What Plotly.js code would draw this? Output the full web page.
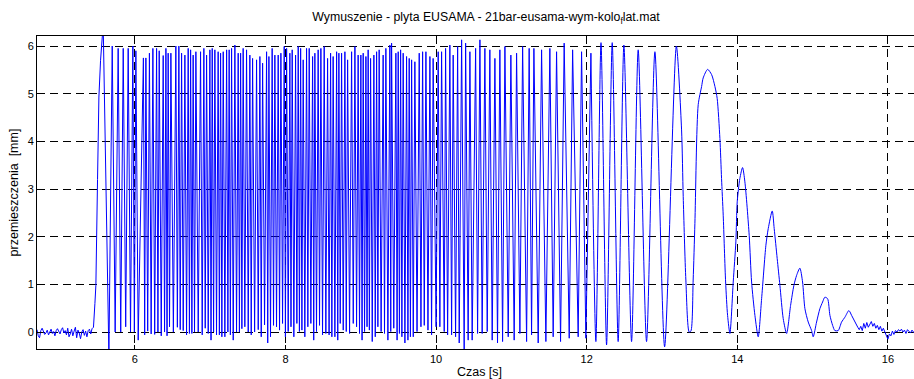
<!DOCTYPE html>
<html><head><meta charset="utf-8">
<script src="https://cdn.plot.ly/plotly-3.0.1.min.js"></script>
<style>html,body{margin:0;padding:0;overflow:hidden;background:#fff}#chart{width:930px;height:379px}</style>
</head><body><div id="chart"></div>
<script>
// ---- data (time in s, displacement in mm) ----
// resting noise before the excitation starts (sampled on a regular time grid)
const noiseStart = 4.70, noiseStep = 0.017;
const noiseY = [0.05,-0.08,-0.12,0.03,0.08,0.0,-0.05,-0.02,0.04,-0.06,0.02,0.06,-0.03,0.01,-0.08,0.03,0.07,0.02,-0.04,0.05,0.09,-0.02,0.03,-0.06,0.08,-0.1,-0.04,0.06,-0.08,0.02,0.1,-0.12,0.04,-0.02,-0.14,0.0,0.05,-0.07,0.02,-0.1,0.03,0.06,-0.04,0.07];
// first rise
const riseT = [5.450,5.469,5.482,5.504,5.522,5.544];
const riseY = [0.10,0.60,0.98,3.20,4.93,5.70];
// oscillation peaks
const peakT = [5.579,
 5.699,5.778,5.845,5.911,5.973,6.013,6.113,6.146,6.193,6.239,6.288,6.323,6.376,6.412,6.442,6.478,6.544,6.584,
 6.620,6.664,6.708,6.740,6.774,6.810,6.872,6.916,6.952,6.996,7.027,7.062,7.106,7.138,7.173,7.218,7.252,7.284,7.328,7.372,7.404,7.438,7.483,7.527,7.563,7.616,7.660,7.696,
 7.749,7.780,7.823,7.859,7.903,7.939,7.983,8.015,8.058,8.089,8.134,8.169,8.201,8.235,8.280,8.315,8.360,8.390,8.434,8.470,8.514,8.559,8.599,8.633,8.679,8.709,8.745,8.789,8.825,
 8.878,8.922,8.965,9.001,9.032,9.068,9.098,9.130,9.174,9.210,9.244,9.297,9.333,9.386,9.409,9.466,9.497,9.529,9.563,9.608,9.643,9.675,9.718,9.776,9.821,9.865,9.918,9.961,
 10.028,10.073,10.126,10.183,10.227,10.286,10.339,10.392,10.449,10.525,10.582,10.648,10.714,10.781,10.847,10.914,10.993,11.069,
 11.149,11.236,11.299,11.401,11.511,11.600,11.701,11.813,11.932,12.056,12.190,
 12.339,12.494,12.684,12.906,13.191];
const peakY = [6.45,
 6.00,5.95,5.95,5.95,6.00,5.90,5.75,5.75,5.85,5.95,5.95,5.90,5.80,5.95,5.85,5.85,6.00,6.00,
 5.85,5.81,5.95,5.92,5.81,5.88,5.88,5.95,5.81,5.92,5.95,5.92,5.88,5.85,5.88,5.92,5.92,5.95,6.02,5.85,5.85,5.95,5.92,5.81,5.74,5.71,5.78,5.64,
 5.88,5.78,5.95,5.81,5.81,5.85,5.99,5.95,5.85,5.92,5.81,5.99,5.95,5.71,5.95,5.95,5.78,5.85,5.92,5.95,5.99,5.74,5.85,5.78,5.88,5.85,5.85,5.88,5.71,
 5.88,5.99,5.81,5.81,5.85,5.78,5.92,5.74,5.81,5.88,5.92,5.81,5.95,6.02,6.06,5.85,5.88,5.92,5.85,5.78,5.74,5.71,5.67,5.85,5.88,5.88,5.78,5.74,
 5.88,5.88,5.95,6.02,5.81,5.99,6.13,6.06,5.88,5.95,6.13,5.95,5.92,5.74,5.92,5.99,5.81,5.85,
 5.99,5.95,5.95,5.92,5.95,5.88,6.06,5.92,5.88,5.85,6.07,
 6.07,6.02,5.92,5.88,6.00];
// oscillation troughs
const troughT = [5.655,
 5.738,5.812,5.878,5.942,5.993,6.044,6.130,6.170,6.216,6.263,6.306,6.350,6.394,6.427,6.460,6.511,6.564,6.602,
 6.642,6.686,6.724,6.757,6.792,6.841,6.894,6.934,6.974,7.011,7.045,7.084,7.122,7.155,7.195,7.235,7.268,7.306,7.350,7.388,7.421,7.460,7.505,7.545,7.590,7.638,7.678,7.722,
 7.764,7.801,7.841,7.881,7.921,7.961,7.999,8.036,8.073,8.111,8.151,8.185,8.218,8.257,8.297,8.337,8.375,8.412,8.452,8.492,8.536,8.579,8.616,8.656,8.694,8.727,8.767,8.807,8.851,
 8.900,8.944,8.983,9.017,9.050,9.083,9.114,9.152,9.192,9.227,9.270,9.315,9.360,9.398,9.438,9.482,9.513,9.546,9.586,9.626,9.659,9.697,9.747,9.799,9.843,9.892,9.940,10.000,
 10.050,10.108,10.153,10.206,10.259,10.307,10.373,10.426,10.479,10.551,10.612,10.679,10.745,10.816,10.883,10.958,11.037,11.113,
 11.202,11.268,11.356,11.458,11.555,11.653,11.768,11.887,11.989,12.122,12.264,
 12.418,12.596,12.795,13.035];
const troughY = [-0.5,
 0.0,0.0,0.11,0.0,0.0,-0.17,-0.06,0.02,-0.04,-0.05,0.0,-0.08,0.0,-0.08,0.11,0.0,0.1,0.05,
 0.03,-0.06,-0.03,-0.03,0.0,0.0,-0.06,0.08,-0.03,-0.17,0.0,-0.06,-0.06,-0.1,-0.1,0.0,-0.06,-0.17,0.0,0.0,0.07,0.11,0.0,-0.06,0.0,0.05,-0.1,0.15,
 -0.23,-0.1,0.14,0.11,0.04,0.18,-0.1,0.01,0.11,-0.1,0.18,0.01,0.04,-0.1,0.11,0.18,-0.17,0.01,0.14,-0.06,-0.03,-0.06,-0.1,-0.1,-0.17,0.18,0.04,0.01,-0.03,
 0.18,0.11,-0.03,-0.17,0.01,0.11,0.04,-0.2,-0.1,0.11,0.01,-0.03,-0.17,0.01,0.08,-0.17,-0.03,-0.1,-0.23,-0.17,-0.1,-0.1,0.01,0.11,0.14,0.04,-0.06,0.11,
 0.11,0.01,-0.06,-0.06,-0.1,-0.23,-0.42,-0.17,-0.17,-0.03,-0.03,0.01,-0.17,-0.23,-0.2,-0.1,-0.17,-0.03,
 -0.2,-0.06,-0.23,-0.2,-0.1,-0.2,-0.13,-0.1,-0.13,-0.2,-0.27,
 -0.2,-0.2,-0.2,-0.31];
// free decay after the excitation stops
const decayT = [13.260,13.282,13.317,13.361,13.384,13.414,13.437,13.481,13.526,13.547,13.606,13.659,13.703,13.733,13.769,13.791,13.813,13.845,13.871,13.902,13.946,13.981,13.999,14.034,14.070,14.101,14.158,14.190,14.234,14.278,14.323,14.380,14.411,14.464,14.490,14.530,14.566,14.610,14.655,14.708,14.752,14.788,14.831,14.867,14.898,14.942,14.987,15.008,15.053,15.097,15.133,15.163,15.199,15.230,15.266,15.296,15.340,15.385,15.429,15.482,15.518];
const decayY = [4.24,2.84,1.09,0.0,0.02,1.09,2.28,4.77,5.15,5.33,5.51,5.40,5.15,4.90,4.06,3.22,2.45,1.05,0.35,-0.03,1.05,1.89,2.73,3.22,3.45,3.15,2.03,1.05,0.35,-0.10,0.70,1.82,2.17,2.54,2.17,1.54,0.98,0.28,-0.03,0.56,0.98,1.19,1.34,1.05,0.49,0.21,0.03,-0.10,0.21,0.49,0.63,0.73,0.70,0.35,0.14,0.03,0.03,0.21,0.31,0.45,0.35];
// residual noise at the end (regular time grid)
const tailStart = 15.56, tailStep = 0.02;
const tailY = [0.21,0.15,0.1,0.05,0.12,0.03,0.18,0.08,0.2,0.1,0.15,0.22,0.12,0.18,0.08,0.14,0.05,0.12,0.02,0.08,0.0,-0.06,-0.15,-0.04,-0.08,0.02,-0.05,0.03,0.0,0.05,0.02,0.06,0.0,0.04,-0.03,0.05,0.02,-0.02,0.04,0.0,-0.04,0.03,-0.01,0.02,0.05,-0.02,0.01,0.03,0.0,0.04,-0.03,0.02,0.0];

const xTicks = [6,8,10,12,14,16];
const yTicks = [0,1,2,3,4,5,6];
const titleText = 'Wymuszenie - plyta EUSAMA - 21bar-eusama-wym-kolo<sub>f</sub>lat.mat';
const xLabel = 'Czas [s]';
const yLabel = 'przemieszczenia  [mm]';

// ---- assemble traces ----
const ext = [];
peakT.forEach((t,i)=>ext.push([t,peakY[i]]));
troughT.forEach((t,i)=>ext.push([t,troughY[i]]));
ext.sort((a,b)=>a[0]-b[0]);
const SPLIT = 12.056;

const denseX = [], denseY = [];
noiseY.forEach((v,i)=>{denseX.push(+(noiseStart+i*noiseStep).toFixed(3)); denseY.push(v);});
riseT.forEach((t,i)=>{denseX.push(t); denseY.push(riseY[i]);});
ext.filter(p=>p[0]<=SPLIT).forEach(p=>{denseX.push(p[0]); denseY.push(p[1]);});

const slowX = [], slowY = [];
ext.filter(p=>p[0]>=SPLIT).forEach(p=>{slowX.push(p[0]); slowY.push(p[1]);});
decayT.forEach((t,i)=>{slowX.push(t); slowY.push(decayY[i]);});

const tailX = [decayT[decayT.length-1]], tailYY = [decayY[decayY.length-1]];
tailY.forEach((v,i)=>{tailX.push(+(tailStart+i*tailStep).toFixed(3)); tailYY.push(v);});

const lineStyle = {color:'#0000ff', width:1};
const traces = [
  {x:denseX, y:denseY, type:'scatter', mode:'lines', line:lineStyle, hoverinfo:'skip', showlegend:false},
  {x:slowX, y:slowY, type:'scatter', mode:'lines', line:Object.assign({shape:'spline', smoothing:0.7}, lineStyle), hoverinfo:'skip', showlegend:false},
  {x:tailX, y:tailYY, type:'scatter', mode:'lines', line:lineStyle, hoverinfo:'skip', showlegend:false}
];

const font = {family:'Liberation Sans, Arial, Helvetica, sans-serif', color:'#000'};
const axisCommon = {
  showline:true, linecolor:'#000', linewidth:1, mirror:'ticks',
  ticks:'inside', ticklen:4, tickcolor:'#000', tickwidth:1,
  showgrid:true, gridcolor:'#000', gridwidth:1, griddash:'8px,5px',
  zeroline:false, tickfont:Object.assign({size:11}, font), fixedrange:true
};
const layout = {
  width:930, height:379,
  margin:{l:37, r:8, t:36, b:30},
  paper_bgcolor:'#fff', plot_bgcolor:'#fff',
  font:font,
  title:{text:titleText, font:Object.assign({size:12.3}, font), xref:'container', x:486/930, xanchor:'center', yref:'container', y:1-17/379, yanchor:'middle'},
  xaxis:Object.assign({}, axisCommon, {range:[4.70,16.453], tickmode:'array', tickvals:xTicks, ticktext:xTicks.map(String),
        title:{text:xLabel, font:Object.assign({size:12.5}, font), standoff:6}}),
  yaxis:Object.assign({}, axisCommon, {range:[-0.356,6.21], tickmode:'array', tickvals:yTicks, ticktext:yTicks.map(String),
        title:{text:yLabel, font:Object.assign({size:12.5}, font), standoff:6}}),
  showlegend:false
};
Plotly.newPlot('chart', traces, layout, {staticPlot:true, displayModeBar:false});
</script></body></html>
